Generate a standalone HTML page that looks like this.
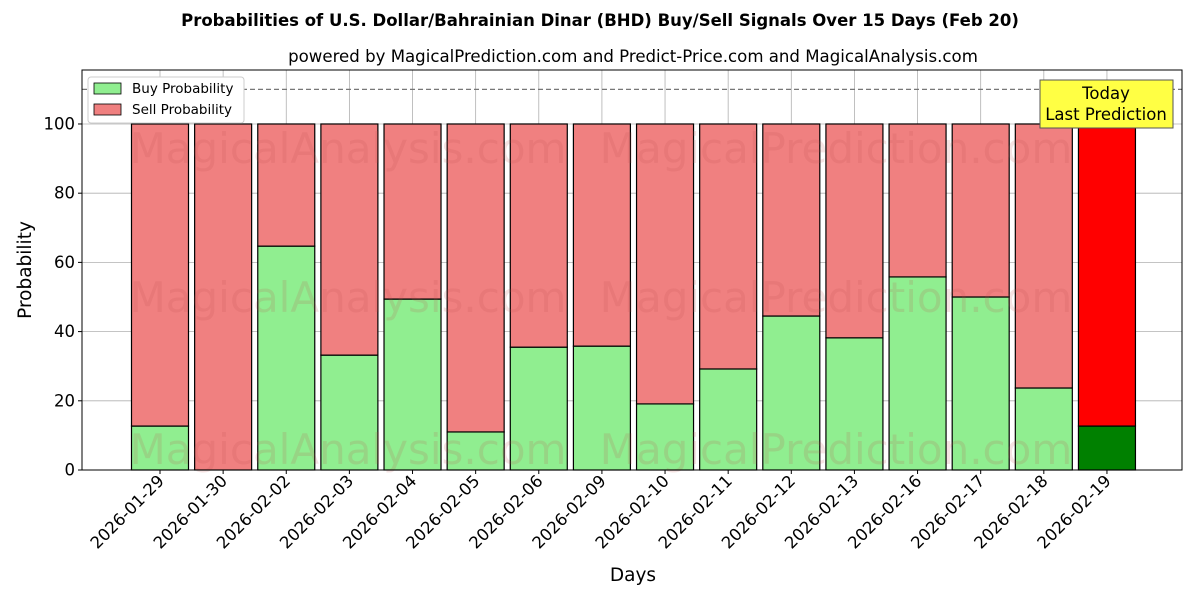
<!DOCTYPE html>
<html><head><meta charset="utf-8"><style>
body{margin:0;background:#fff;}
svg{font-family:"DejaVu Sans","Liberation Sans",sans-serif;}
</style></head><body>
<svg id="chart" width="1200" height="600" viewBox="0 0 1200 600" xmlns="http://www.w3.org/2000/svg">
<text x="600" y="26" text-anchor="middle" font-size="16.5" font-weight="bold">Probabilities of U.S. Dollar/Bahrainian Dinar (BHD) Buy/Sell Signals Over 15 Days (Feb 20)</text>
<text x="633" y="62" text-anchor="middle" font-size="16.6">powered by MagicalPrediction.com and Predict-Price.com and MagicalAnalysis.com</text>
<g id="grid"></g>
<g id="bars"></g>
<g id="wm" font-size="42" fill="#c05050" fill-opacity="0.16">
<text x="348" y="163" text-anchor="middle">MagicalAnalysis.com</text>
<text x="836" y="163" text-anchor="middle">MagicalPrediction.com</text>
<text x="348" y="312" text-anchor="middle">MagicalAnalysis.com</text>
<text x="836" y="312" text-anchor="middle">MagicalPrediction.com</text>
<text x="348" y="464" text-anchor="middle">MagicalAnalysis.com</text>
<text x="836" y="464" text-anchor="middle">MagicalPrediction.com</text>
</g>
<line x1="82" x2="1182" y1="89.4" y2="89.4" stroke="#777" stroke-width="1.2" stroke-dasharray="5,3"/>
<rect x="82" y="70" width="1100" height="400" fill="none" stroke="#000" stroke-width="1"/>
<g id="axes"></g>
<text transform="translate(31,270) rotate(-90)" text-anchor="middle" font-size="18.5">Probability</text>
<text x="633" y="581" text-anchor="middle" font-size="18.5">Days</text>
<g>
<rect x="88" y="77" width="156" height="46" fill="#fff" stroke="#ccc" rx="3"/>
<rect x="94" y="83" width="27" height="11" fill="#90ee90" stroke="#000" stroke-width="0.8"/>
<text x="132" y="93" font-size="13.5">Buy Probability</text>
<rect x="94" y="104" width="27" height="11" fill="#f08080" stroke="#000" stroke-width="0.8"/>
<text x="132" y="114" font-size="13.5">Sell Probability</text>
</g>
<g>
<rect x="1040" y="80" width="133" height="48" fill="#ffff44" stroke="#555"/>
<text x="1106" y="99" text-anchor="middle" font-size="16.5">Today</text>
<text x="1106" y="120" text-anchor="middle" font-size="16.5">Last Prediction</text>
</g>
</svg>
<script>
const categories=["2026-01-29","2026-01-30","2026-02-02","2026-02-03","2026-02-04","2026-02-05","2026-02-06","2026-02-09","2026-02-10","2026-02-11","2026-02-12","2026-02-13","2026-02-16","2026-02-17","2026-02-18","2026-02-19"];
const buyValues=[12.7,0,64.7,33.2,49.4,11.0,35.5,35.8,19.1,29.2,44.5,38.2,55.8,50.0,23.7,12.7];
const sellValues=buyValues.map(v=>100-v);
const yTicks=[0,20,40,60,80,100];
const NS="http://www.w3.org/2000/svg";
const X0=82,X1=1182,Y0=470,Y1=70;
const yMin=0,yMax=115.6;
function ys(v){return Y0-(v-yMin)/(yMax-yMin)*(Y0-Y1);}
const step=63.13,first=160;
function xs(i){return first+i*step;}
const bw=57;
function mk(tag,attrs,parent){const e=document.createElementNS(NS,tag);for(const k in attrs)e.setAttribute(k,attrs[k]);parent.appendChild(e);return e;}
const grid=document.getElementById('grid'),bars=document.getElementById('bars'),axes=document.getElementById('axes');
yTicks.forEach(t=>{
  const y=ys(t);
  const g=mk('line',{x1:X0,x2:X1,y1:y,y2:y,stroke:'#b0b0b0','stroke-width':0.8},grid);
  
  
  mk('line',{x1:X0-4,x2:X0,y1:y,y2:y,stroke:'#000'},axes);
  const tx=mk('text',{x:X0-7,y:y+5.5,'text-anchor':'end','font-size':16.5},axes);
  tx.textContent=t;
  
  
});
categories.forEach((c,i)=>{
  const x=xs(i);
  const g=mk('line',{x1:x,x2:x,y1:Y1,y2:Y0,stroke:'#b0b0b0','stroke-width':0.8},grid);
  
  
  const last=i===categories.length-1;
  const b=mk('rect',{x:x-bw/2,y:ys(buyValues[i]),width:bw,height:ys(0)-ys(buyValues[i]),fill:last?'#008000':'#90ee90',stroke:'#000','stroke-width':1.2},bars);
  
  
  const s=mk('rect',{x:x-bw/2,y:ys(buyValues[i]+sellValues[i]),width:bw,height:ys(buyValues[i])-ys(buyValues[i]+sellValues[i]),fill:last?'#ff0000':'#f08080',stroke:'#000','stroke-width':1.2},bars);
  
  
  mk('line',{x1:x,x2:x,y1:Y0,y2:Y0+4,stroke:'#000'},axes);
  const tx=mk('text',{x:0,y:0,'text-anchor':'end','font-size':16.5,transform:`translate(${x+5},${Y0+12}) rotate(-45)`},axes);
  tx.textContent=c;
  
  
});
</script>
</body></html>
